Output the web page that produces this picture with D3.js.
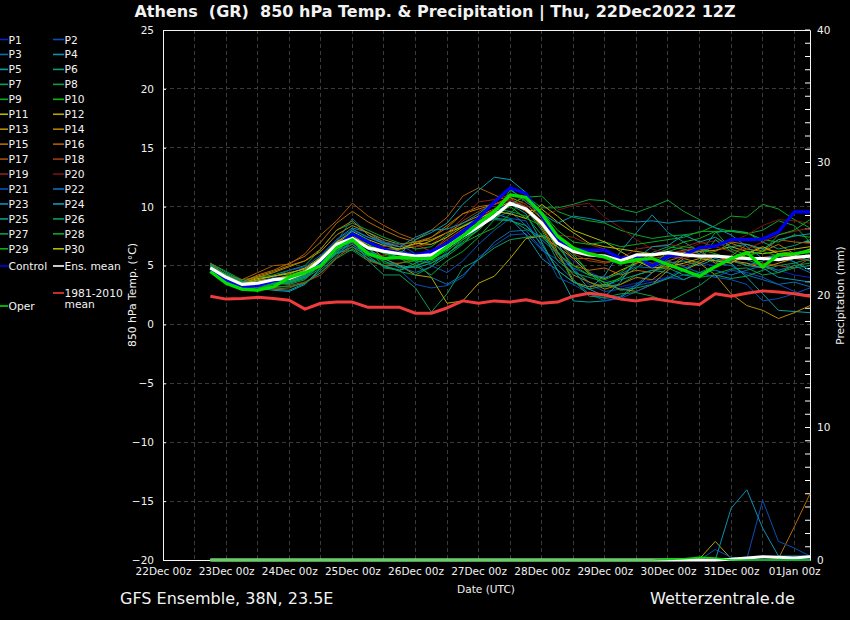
<!DOCTYPE html>
<html><head><meta charset="utf-8">
<script src="https://cdn.jsdelivr.net/npm/d3@7"></script>
<style>html,body{margin:0;background:#000}svg{display:block}text{font-family:"DejaVu Sans",sans-serif;fill:#f2f2f2;white-space:pre}</style>
</head><body><div id="c"></div>
<script>
const P1 =[4.7,3.9,3.2,3.6,4.0,4.6,4.8,5.5,7.2,8.0,7.4,6.8,6.2,6.0,6.1,6.8,7.8,8.6,9.5,10.5,10.0,8.5,6.5,5.4,4.5,3.8,3.2,3.5,3.8,4.0,4.8,5.2,5.0,5.4,5.2,5.0,4.6,4.2,4.0];
const P2 =[4.8,3.9,3.3,3.4,3.6,3.6,4.2,5.0,6.1,6.8,5.6,5.0,4.6,3.4,3.1,3.3,4.0,5.7,6.7,7.6,7.7,6.3,5.5,4.8,3.4,2.8,3.0,3.3,3.6,3.9,4.2,4.4,4.0,4.6,4.4,4.0,3.4,2.8,2.4];
const P3 =[4.9,4.0,3.4,3.6,3.9,3.9,4.5,5.6,7.0,9.0,7.6,6.8,6.6,5.4,4.0,3.4,4.2,5.5,7.0,7.9,8.0,6.4,5.1,3.8,2.6,2.2,2.4,3.4,4.4,5.6,6.2,5.8,5.2,5.0,4.2,3.8,3.4,3.6,3.2];
const P4 =[5.0,4.0,3.5,3.7,3.9,4.0,4.6,5.8,7.2,8.2,7.8,7.0,6.2,5.8,5.9,6.9,7.9,8.6,9.4,9.0,7.6,5.6,4.6,3.6,3.0,4.2,6.2,7.8,9.3,7.8,7.0,6.2,5.4,5.6,5.0,4.8,4.0,3.8,3.6];
const P5 =[4.9,4.1,3.4,3.5,3.0,2.9,3.5,4.6,5.8,7.2,5.5,5.0,5.0,4.8,5.2,5.9,7.2,8.2,9.2,10.2,9.4,7.0,4.6,2.0,1.9,2.0,2.3,3.2,4.4,5.2,5.4,5.0,5.6,5.2,4.0,2.6,1.2,1.1,1.0];
const P6 =[5.1,4.2,3.6,3.2,3.5,3.7,4.2,5.3,6.3,6.8,5.9,5.4,4.8,4.9,5.6,6.4,7.5,8.4,9.0,8.9,8.1,7.4,6.2,4.6,3.6,3.2,4.0,5.2,6.1,6.6,6.4,6.0,7.8,8.0,7.8,7.0,6.4,6.7,7.2];
const P7 =[5.2,4.4,3.7,3.1,3.4,3.6,4.0,5.0,6.1,6.3,5.4,4.2,4.2,3.1,1.05,2.6,4.8,5.5,6.5,7.2,7.4,7.6,7.0,5.8,4.4,3.2,3.4,4.2,4.6,4.8,4.2,4.0,4.2,3.9,4.1,4.6,5.0,5.2,5.6];
const P8 =[5.2,4.5,3.8,4.0,4.2,4.6,5.0,6.4,8.0,8.6,8.0,7.4,6.9,6.4,6.6,7.6,8.4,9.0,9.6,10.2,10.9,9.9,9.9,10.2,10.6,10.5,9.8,9.5,10.0,10.55,9.6,8.9,8.2,7.9,7.7,8.0,8.8,8.4,7.0];
const P9 =[4.6,3.6,3.0,3.3,3.7,4.0,4.4,5.2,6.4,7.2,6.6,5.2,5.2,5.4,5.2,6.0,6.9,7.6,8.2,9.4,10.8,10.9,9.6,9.1,8.8,8.6,8.0,7.6,7.3,7.5,7.6,7.8,8.4,9.2,9.1,10.2,9.8,8.9,8.2];
const P10=[4.5,3.4,2.9,3.2,3.8,4.2,4.6,5.4,6.6,7.6,6.8,6.2,5.6,5.4,5.8,6.8,7.8,8.6,9.4,11.4,10.6,9.0,7.4,6.0,4.4,3.5,3.9,4.8,5.9,6.4,7.0,7.3,7.9,7.9,7.8,7.2,7.0,7.6,7.4];
const P11=[4.8,4.1,3.5,3.9,4.1,4.3,4.8,5.7,7.0,7.9,7.2,6.7,6.4,6.6,7.1,7.8,8.3,8.9,9.8,10.4,9.6,9.8,8.7,7.8,6.9,6.6,6.4,6.2,6.0,5.9,6.1,6.2,6.3,6.6,6.2,6.0,6.2,6.4,6.6];
const P12=[4.7,3.8,3.3,3.7,3.9,4.1,4.6,5.4,6.6,7.4,6.8,5.6,5.0,4.2,4.0,1.8,2.0,3.5,4.1,5.6,7.3,7.5,6.6,5.6,4.3,3.9,4.6,5.2,5.6,5.0,4.6,5.2,5.8,5.4,5.2,4.8,5.2,5.6,5.8];
const P13=[4.9,4.0,3.5,4.0,4.4,4.9,5.4,6.2,7.6,8.4,7.8,7.2,6.8,7.0,7.2,7.8,8.6,9.2,9.8,10.8,10.2,9.0,6.2,3.6,3.2,3.4,3.0,2.8,3.4,4.6,5.6,5.2,4.2,2.6,1.6,1.2,0.5,1.0,1.6];
const P14=[5.0,4.1,3.6,4.1,4.5,5.0,5.4,6.4,8.0,8.8,7.6,7.0,6.6,6.8,7.4,8.4,9.4,9.8,10.2,10.6,10.0,8.2,5.8,4.2,3.6,3.0,3.4,4.0,3.8,4.8,5.8,6.4,6.2,6.9,6.4,6.2,6.8,6.0,6.2];
const P15=[5.0,4.2,3.6,4.2,4.6,5.2,5.8,7.0,8.6,9.6,8.7,8.0,7.4,7.0,7.4,8.2,9.4,10.0,10.2,10.8,9.6,8.4,6.0,5.0,4.6,4.8,4.2,4.6,4.4,5.4,5.8,6.2,6.6,7.0,6.8,6.4,6.2,6.0,6.4];
const P16=[5.2,4.2,3.8,4.4,5.0,5.1,6.0,7.6,8.8,10.3,9.2,8.4,7.7,7.2,8.0,9.1,10.9,11.6,11.0,10.4,9.6,8.6,7.0,5.6,5.6,5.3,5.4,5.2,5.8,6.0,6.3,6.4,5.2,5.8,6.8,6.2,7.2,7.0,6.9];
const P17=[4.6,3.7,3.1,3.2,3.0,3.1,3.6,4.4,5.7,6.6,5.4,5.0,5.2,5.6,6.2,7.2,8.1,8.8,9.4,10.2,9.9,8.6,6.8,6.2,6.1,6.3,5.6,5.4,5.2,5.3,5.0,5.4,5.8,5.6,5.0,5.2,5.0,4.8,5.6];
const P18=[4.6,3.6,3.0,2.9,3.1,3.3,3.6,4.2,5.6,6.9,6.2,5.8,6.4,6.8,6.2,7.4,8.8,9.6,10.2,10.6,10.0,8.8,7.2,6.0,5.4,5.2,5.5,5.3,5.6,5.8,5.6,5.9,5.8,5.4,5.6,5.7,5.9,5.6,5.4];
const P19=[4.5,3.5,3.1,3.4,3.8,4.0,4.3,5.0,6.4,7.4,6.9,6.6,6.8,6.6,6.8,7.8,9.0,10.4,10.6,11.0,10.5,9.4,7.6,7.4,6.8,6.4,5.6,6.4,6.6,6.8,6.6,7.0,6.6,6.2,6.4,7.0,7.6,7.9,8.2];
const P20=[4.7,3.8,3.2,3.5,3.7,3.8,4.1,4.9,6.3,7.6,7.0,6.4,6.1,5.9,6.3,7.0,8.0,9.0,9.8,10.6,10.2,9.2,9.7,10.1,10.3,9.1,8.2,7.2,6.4,6.0,6.2,6.9,7.1,7.0,7.6,8.4,8.9,8.8,8.6];
const P21=[4.5,3.6,3.2,3.5,4.0,4.6,4.9,5.9,7.2,8.0,7.4,7.0,6.8,6.0,5.0,4.4,5.4,6.8,8.0,9.0,8.8,6.6,4.0,3.4,2.6,2.0,2.2,2.8,3.4,4.0,3.8,4.4,4.0,3.8,3.4,2.0,2.2,2.6,3.1];
const P22=[4.6,3.8,3.1,3.4,3.7,3.5,4.0,5.0,6.2,7.0,6.2,5.6,4.9,4.4,4.9,6.2,7.4,8.4,9.0,9.6,8.4,7.2,6.0,4.8,4.2,4.0,4.3,4.9,4.8,5.4,4.9,4.4,4.6,4.2,4.6,5.0,4.6,5.0,4.4];
const P23=[4.8,3.9,3.3,3.3,3.6,3.7,4.1,5.2,6.4,8.1,7.4,6.9,6.6,7.4,8.0,8.1,8.6,9.4,10.4,11.5,10.4,9.4,8.6,9.2,9.0,8.7,8.8,8.7,8.8,8.6,8.8,8.8,8.2,7.6,6.6,5.6,5.9,5.3,4.6];
const P24=[5.0,4.0,3.5,3.1,2.9,2.8,3.4,4.8,6.2,7.4,6.4,5.6,6.0,7.2,7.8,8.6,10.2,11.4,12.5,12.3,11.2,9.2,7.0,4.6,3.0,2.4,3.6,5.6,6.6,6.7,7.6,7.0,7.4,6.6,6.8,6.4,7.2,7.5,7.7];
const P25=[5.1,4.1,3.6,3.6,3.6,3.6,4.0,5.1,6.0,6.6,5.8,4.9,4.6,5.2,5.8,6.6,7.6,8.7,8.9,8.8,8.4,6.8,4.6,3.6,3.0,3.3,3.8,4.2,4.6,4.4,3.8,4.4,5.0,5.4,5.0,5.4,6.0,5.9,5.4];
const P26=[5.0,4.2,3.7,3.5,3.5,3.4,3.8,5.2,6.5,7.0,6.6,4.8,4.6,5.0,5.4,6.0,7.0,8.0,9.4,10.2,9.8,8.0,5.4,4.4,4.0,3.6,2.9,3.1,3.4,3.9,4.6,5.4,7.2,6.2,5.5,5.0,4.4,4.8,5.0];
const P27=[4.9,4.3,3.6,3.3,3.2,3.2,3.5,4.4,5.6,6.4,5.6,5.0,4.5,4.2,4.9,5.8,6.8,8.2,9.8,9.6,9.2,7.6,6.2,3.8,2.4,2.3,2.6,2.7,2.4,1.9,2.6,3.3,4.3,4.7,4.8,4.2,4.4,5.0,5.2];
const P28=[4.7,3.6,3.2,3.0,3.4,3.5,3.9,4.8,6.0,7.8,7.2,6.0,5.6,5.0,4.2,5.4,6.2,7.4,8.9,10.2,10.9,9.6,8.0,7.0,6.8,7.0,6.6,6.8,7.0,7.2,7.4,7.9,7.9,6.4,5.9,6.2,7.6,8.0,8.9];
const P29=[4.6,3.5,2.9,3.0,3.5,3.7,4.2,5.1,6.8,7.9,6.7,6.0,5.9,5.6,5.5,6.3,7.2,8.0,9.4,10.0,9.0,8.4,6.6,5.0,4.2,3.8,4.4,5.4,5.0,6.2,6.6,6.4,6.0,5.6,5.8,6.2,5.8,6.0,6.4];
const P30=[4.8,3.9,3.4,3.8,4.1,4.4,4.7,5.6,7.0,7.6,6.6,6.4,6.4,6.9,6.8,7.4,8.3,9.0,9.6,9.4,9.0,10.2,9.2,8.0,7.5,7.0,6.2,5.4,4.8,4.9,5.2,5.6,5.4,5.2,6.0,6.6,6.0,5.8,6.4];
const controlTemp=[4.6,3.8,3.2,3.3,3.7,3.9,4.4,5.2,6.6,7.7,7.0,6.4,6.0,5.9,6.2,6.9,7.9,9.0,10.4,11.6,11.1,9.2,7.1,6.4,6.3,6.3,5.6,5.8,4.95,5.8,5.9,6.5,6.65,7.2,7.2,7.25,7.85,9.55,9.55];
const meanTemp=[4.8,4.0,3.4,3.5,3.8,3.9,4.4,5.5,6.8,7.3,6.5,6.2,6.0,5.8,5.9,6.6,7.5,8.3,9.2,10.3,9.8,8.6,6.9,6.2,5.9,5.8,5.4,5.9,5.9,6.1,5.9,5.8,5.8,5.7,5.6,5.6,5.5,5.7,5.8];
const operTemp=[4.5,3.5,3.0,2.9,3.2,4.0,4.4,5.0,6.5,7.2,6.0,5.6,5.7,5.6,5.6,6.6,7.5,8.6,9.6,11.0,10.8,9.4,7.5,6.5,6.0,5.7,5.2,5.5,5.6,5.1,4.6,4.1,4.9,5.6,6.1,4.9,5.9,6.0,6.2];
const climoTemp=[2.4,2.15,2.2,2.3,2.2,2.05,1.3,1.8,1.9,1.9,1.45,1.45,1.45,0.95,0.95,1.4,2.0,1.8,2.0,1.9,2.1,1.8,1.9,2.4,2.65,2.5,2.15,2.0,2.2,2.0,1.8,1.7,2.6,2.4,2.65,2.85,2.75,2.6,2.4];

const precipTeal =[0,0,0,0,0,0,0,0,0,0,0,0,0,0,0,0,0,0,0,0,0,0,0,0,0,0,0,0,0,0,0,0,0,3.9,5.3,2.4,0.3,0.3,0.3];
const precipBlue =[0,0,0,0,0,0,0,0,0,0,0,0,0,0,0,0,0,0,0,0,0,0,0,0,0,0,0,0,0,0,0,0,0.8,0.2,0.1,4.5,1.4,0.9,0.3];
const precipOlive=[0,0,0,0,0,0,0,0,0,0,0,0,0,0,0,0,0,0,0,0,0,0,0,0,0,0,0,0,0,0,0,0.1,1.4,0.1,0,0,0,0,0];
const precipBrown=[0,0,0,0,0,0,0,0,0,0,0,0,0,0,0,0,0,0,0,0,0,0,0,0,0,0,0,0,0,0,0,0,0,0,0,0,0.1,2.5,5.0];
const precipControl=[0,0,0,0,0,0,0,0,0,0,0,0,0,0,0,0,0,0,0,0,0,0,0,0,0,0,0,0,0,0,0,0,0,0,0,0,0,0,0];
const precipMean =[0,0,0,0,0,0,0,0,0,0,0,0,0,0,0,0,0,0,0,0,0,0,0,0,0,0,0,0,0,0,0,0,0,0.05,0.15,0.25,0.2,0.15,0.25];
const precipOper =[0,0,0,0,0,0,0,0,0,0,0,0,0,0,0,0,0,0,0,0,0,0,0,0,0,0,0,0,0,0.05,0.1,0.2,0.15,0,0,0,0,0,0];

const memberNames=["P1","P2","P3","P4","P5","P6","P7","P8","P9","P10","P11","P12","P13","P14","P15","P16","P17","P18","P19","P20","P21","P22","P23","P24","P25","P26","P27","P28","P29","P30"];
const memberValues=[P1,P2,P3,P4,P5,P6,P7,P8,P9,P10,P11,P12,P13,P14,P15,P16,P17,P18,P19,P20,P21,P22,P23,P24,P25,P26,P27,P28,P29,P30];
const memberColors=["#0a24c4","#0a4fb4","#0a6fac","#0a90b4","#0a9ea0","#0a9e78","#0a9e58","#0aa038","#0aa820","#0ab810","#b8b800","#b8a400","#b48c00","#b47c00","#b46c00","#b05c00","#a84c08","#a03c14","#8c2418","#7c1010","#0a50b8","#0a70b8","#0a90b4","#0a9eac","#0a9e7c","#0a9e5c","#0a9e44","#0aa828","#0ab010","#b8b800"];
const tempTicks=[25,20,15,10,5,0,-5,-10,-15,-20];
const precipTicks=[0,10,20,30,40];
const dayLabels=["22Dec 00z","23Dec 00z","24Dec 00z","25Dec 00z","26Dec 00z","27Dec 00z","28Dec 00z","29Dec 00z","30Dec 00z","31Dec 00z","01Jan 00z"];

const W=850,H=620,m={l:163,r:810,t:30,b:560};
const svg=d3.select("#c").append("svg").attr("width",W).attr("height",H);
svg.append("rect").attr("width",W).attr("height",H).attr("fill","#000");
const x=d3.scaleLinear().domain([0,246]).range([m.l,m.r]);
const yT=d3.scaleLinear().domain([-20,25]).range([m.b,m.t]);
const yP=d3.scaleLinear().domain([0,40]).range([m.b,m.t]);
const hour=i=>18+6*i;
const lineT=d3.line().x((d,i)=>x(hour(i))).y(d=>yT(d));
const lineP=d3.line().x((d,i)=>x(hour(i))).y(d=>yP(d));

const g=svg.append("g").attr("stroke","#3a3a3a").attr("stroke-width",1).attr("stroke-dasharray","4 3").attr("shape-rendering","crispEdges");
g.selectAll("line.v").data(d3.range(12,246,12)).join("line").attr("class","v").attr("x1",d=>x(d)).attr("x2",d=>x(d)).attr("y1",m.t).attr("y2",m.b);
g.selectAll("line.h").data(tempTicks.slice(1,-1)).join("line").attr("class","h").attr("x1",m.l).attr("x2",m.r).attr("y1",d=>yT(d)).attr("y2",d=>yT(d));

const ax=svg.append("g");
ax.append("g").attr("transform",`translate(${m.l},0)`).call(d3.axisLeft(yT).tickValues(tempTicks).tickSize(-3).tickPadding(9).tickFormat(d3.format("d")));
const rightAxis=ax.append("g").attr("transform",`translate(${m.r},0)`).call(d3.axisRight(yP).tickValues(precipTicks).tickSize(0).tickPadding(7).tickFormat(d3.format("d")));
rightAxis.append("g").selectAll("line").data(d3.range(0,41)).join("line").attr("x1",-5).attr("x2",0).attr("y1",d=>yP(d)).attr("y2",d=>yP(d)).attr("stroke","#fff");
ax.append("g").attr("transform",`translate(0,${m.b})`).call(d3.axisBottom(x).tickValues(d3.range(0,246,24)).tickSize(0).tickPadding(8).tickFormat((d,i)=>dayLabels[i]));
ax.append("g").attr("transform",`translate(0,${m.t})`).call(d3.axisTop(x).tickValues([]).tickSize(0));
ax.selectAll(".domain").attr("stroke","#f4f4f4").attr("stroke-width",1);
ax.selectAll(".tick line").attr("stroke","#f4f4f4");
ax.selectAll("text").attr("fill","#f2f2f2").attr("font-family",'"DejaVu Sans",sans-serif').attr("font-size",10.5);

const plot=svg.append("g").attr("fill","none").attr("stroke-linejoin","round");
[[precipOlive,memberColors[11]],[precipBrown,memberColors[14]],[precipBlue,memberColors[1]],[precipTeal,memberColors[3]]].forEach(([v,c])=>{
  plot.append("path").datum(v).attr("d",lineP).attr("stroke",c).attr("stroke-width",1);
});
memberValues.forEach((v,k)=>{
  plot.append("path").datum(v).attr("d",lineT).attr("stroke",memberColors[k]).attr("stroke-width",1);
});
const heavy=[[controlTemp,precipControl,"#0000f0"],[meanTemp,precipMean,"#ffffff"],[operTemp,precipOper,"#00e000"]];
heavy.forEach(([t,p,c])=>{
  plot.append("path").datum(t).attr("d",lineT).attr("stroke",c).attr("stroke-width",3.2);
  plot.append("path").datum(p).attr("d",lineP).attr("stroke",c).attr("stroke-width",c==="#ffffff"?3:1.6);
});
plot.append("path").datum(climoTemp).attr("d",lineT).attr("stroke","#f03c3c").attr("stroke-width",3);

svg.append("text").attr("x",435).attr("y",17).attr("text-anchor","middle").attr("font-size",16).attr("font-weight","bold").text("Athens  (GR)  850 hPa Temp. & Precipitation | Thu, 22Dec2022 12Z");
svg.append("text").attr("x",120).attr("y",604).attr("font-size",16).text("GFS Ensemble, 38N, 23.5E");
svg.append("text").attr("x",650).attr("y",604).attr("font-size",16.1).text("Wetterzentrale.de");
svg.append("text").attr("x",486).attr("y",593).attr("text-anchor","middle").attr("font-size",10.6).text("Date (UTC)");
svg.append("text").attr("transform","translate(135.5,295) rotate(-90)").attr("text-anchor","middle").attr("font-size",10.8).text("850 hPa Temp. (°C)");
svg.append("text").attr("transform","translate(843.5,295.5) rotate(-90)").attr("text-anchor","middle").attr("font-size",10.6).text("Precipitation (mm)");

const lg=svg.append("g").attr("font-size",10.7);
function entry(x0,y,c,label,w){
  lg.append("line").attr("x1",x0).attr("x2",x0+w).attr("y1",y).attr("y2",y).attr("stroke",c).attr("stroke-width",1.6);
  return lg.append("text").attr("x",x0+w+0.5).attr("y",y+4).text(label);
}
memberNames.forEach((n,k)=>{
  const col=k%2,row=(k-col)/2;
  entry(col?53:0,39.5+row*14.95,memberColors[k],n,col?11:8);
});
entry(0,266,"#0000f0","Control",8);
entry(53,266,"#ffffff","Ens. mean",11);
entry(0,306,"#00e000","Oper",8);
const climoLabel=entry(53,293,"#f03c3c","",11);
climoLabel.append("tspan").attr("x",64.5).text("1981-2010");
climoLabel.append("tspan").attr("x",64.5).attr("dy",10.5).text("mean");
</script></body></html>
